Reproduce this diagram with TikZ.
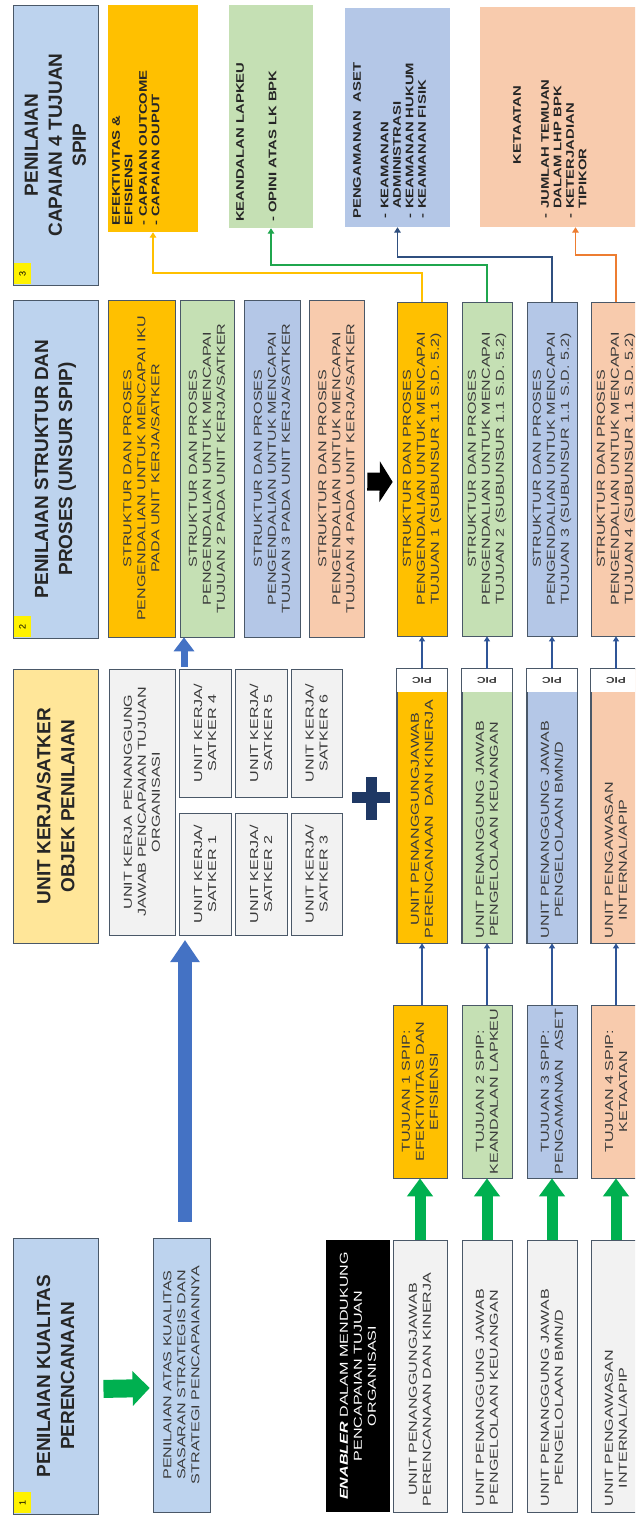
\documentclass[tikz,border=0pt]{standalone}
\usepackage{fontspec}
\setmainfont{Liberation Sans}
\newfontfamily\bodyf[FakeStretch=1.4]{Liberation Sans}
\newfontfamily\ebf[FakeStretch=1.35]{Liberation Sans}
\usetikzlibrary{arrows.meta,calc}
\definecolor{hblue}{HTML}{BDD3EE}
\definecolor{hyel}{HTML}{FFE699}
\definecolor{cor}{HTML}{FFC000}
\definecolor{cgr}{HTML}{C5E0B4}
\definecolor{cbl}{HTML}{B4C7E7}
\definecolor{cpe}{HTML}{F8CBAD}
\definecolor{cgy}{HTML}{F2F2F2}
\definecolor{bord}{HTML}{4A5868}
\definecolor{txt}{HTML}{3A3A3A}
\definecolor{arrgreen}{HTML}{00B050}
\definecolor{arrblue}{HTML}{4472C4}
\definecolor{navy}{HTML}{1F3864}
\definecolor{thinnavy}{HTML}{2F5597}
\definecolor{lngr}{HTML}{1FA64E}
\definecolor{lnnv}{HTML}{2F4F7F}
\definecolor{lnor}{HTML}{ED7D31}
\newcommand\mybox[7]{%
  \pgfmathsetmacro\mbx{(#2+#4)/2}%
  \pgfmathsetmacro\mby{-(#3+#5)/2}%
  \pgfmathsetmacro\mbw{#5-#3}%
  \pgfmathsetmacro\mbh{#4-#2}%
  \node[#6, minimum width=\mbw pt, minimum height=\mbh pt] (#1) at (\mbx,\mby) {#7};}
\begin{document}
\begin{tikzpicture}[x=1pt,y=1pt,
  box/.style={rotate=90, draw=bord, line width=0.7pt, inner sep=1pt, align=center, text=txt, font=\bodyf\fontsize{11.5}{14}\selectfont},
  hdr/.style={rotate=90, draw=bord, line width=0.9pt, fill=hblue, align=center, text=black!85, font=\bfseries\fontsize{19}{24}\selectfont},
  tagbox/.style={rotate=90, fill=yellow, inner sep=0pt, font=\fontsize{9}{9}\selectfont},
  ebox/.style={rotate=90, draw=none, inner sep=0pt},
  etext/.style={rotate=90, align=left, inner sep=0pt, anchor=north west, text=black!85, font=\ebf\bfseries\fontsize{11}{12.5}\selectfont},
  btext/.style={rotate=90, align=center, inner sep=0pt, anchor=west, text=txt, font=\bodyf\fontsize{11.5}{14}\selectfont},
  pictag/.style={rotate=180, inner sep=0pt, text=txt, font=\bodyf\bfseries\fontsize{8.5}{8.5}\selectfont},
  navyarr/.style={draw=thinnavy, line width=1.6pt, -{Triangle[width=6pt,length=5pt]}},
  gblock/.style={draw=arrgreen, line width=11pt, -{Triangle[width=25pt,length=18pt]}},
  hblock/.style={draw=arrgreen, line width=18pt, -{Triangle[width=34pt,length=17pt]}},
  bigblue/.style={draw=arrblue, line width=14pt, -{Triangle[width=28pt,length=22pt]}},
  smallblue/.style={draw=arrblue, line width=7pt, -{Triangle[width=20pt,length=14pt]}},
  blackarr/.style={draw=black, line width=18pt, -{Triangle[width=40pt,length=13pt]}},
  lnk/.style={line width=1.8pt, -{Triangle[width=6.5pt,length=5.5pt]}}
]
\useasboundingbox (0,0) rectangle (635,-1516);
\begin{scope}
\clip (0,0) rectangle (635,-1516);
\fill[white] (0,0) rectangle (635,-1516);

% headers
\mybox{h4}{13}{5}{98}{285}{hdr}{PENILAIAN\\CAPAIAN 4 TUJUAN\\SPIP}
\mybox{h3}{13}{300}{98}{638}{hdr}{PENILAIAN STRUKTUR DAN\\PROSES (UNSUR SPIP)}
\mybox{h2}{13}{669}{98}{943}{hdr, fill=hyel}{UNIT KERJA/SATKER\\OBJEK PENILAIAN}
\mybox{h1}{13}{1238}{98}{1514}{hdr}{PENILAIAN KUALITAS\\PERENCANAAN}
\mybox{tg3}{14}{263}{31}{284}{tagbox}{3}
\mybox{tg2}{14}{616}{31}{637}{tagbox}{2}
\mybox{tg1}{14}{1492}{31}{1513}{tagbox}{1}

% column 4 targets
\mybox{e1}{108}{5}{198}{232}{ebox, fill=cor}{}
\mybox{e2}{229}{5}{313}{228}{ebox, fill=cgr}{}
\mybox{e3}{345}{8}{450}{227}{ebox, fill=cbl}{}
\mybox{e4}{480}{7}{645}{227}{ebox, fill=cpe}{}
\node[etext] (e1t) at (112,-226) {EFEKTIVITAS \&\\EFISIENSI\\[2pt]- CAPAIAN OUTCOME\\- CAPAIAN OUPUT};
\node[etext] (e2t) at (236,-222) {KEANDALAN LAPKEU\\[20pt]- OPINI ATAS LK BPK};
\node[etext] (e3t) at (353,-219) {PENGAMANAN\ \ ASET\\[15pt]\makebox[10pt][l]{-}KEAMANAN\\\hspace*{10pt}ADMINISTRASI\\\makebox[10pt][l]{-}KEAMANAN HUKUM\\\makebox[10pt][l]{-}KEAMANAN FISIK};
\node[etext, anchor=center] (e4k) at (517,-125) {KETAATAN};
\node[etext] (e4t) at (541,-219) {\makebox[10pt][l]{-}JUMLAH TEMUAN\\\hspace*{10pt}DALAM LHP BPK\\\makebox[10pt][l]{-}KETERJADIAN\\\hspace*{10pt}TIPIKOR};

% column 1 / 2
\mybox{p1}{153}{1238}{210}{1512}{box, fill=hblue}{PENILAIAN ATAS KUALITAS\\SASARAN STRATEGIS DAN\\STRATEGI PENCAPAIANNYA}
\mybox{ukp}{109}{669}{175}{935}{box, fill=cgy}{UNIT KERJA PENANGGUNG\\JAWAB PENCAPAIAN TUJUAN\\ORGANISASI}
\mybox{sk1}{179}{813}{231}{935}{box, fill=cgy}{UNIT KERJA/\\SATKER 1}
\mybox{sk4}{179}{669}{231}{797}{box, fill=cgy}{UNIT KERJA/\\SATKER 4}
\mybox{sk2}{235}{813}{287}{935}{box, fill=cgy}{UNIT KERJA/\\SATKER 2}
\mybox{sk5}{235}{669}{287}{797}{box, fill=cgy}{UNIT KERJA/\\SATKER 5}
\mybox{sk3}{291}{813}{342}{935}{box, fill=cgy}{UNIT KERJA/\\SATKER 3}
\mybox{sk6}{291}{669}{342}{797}{box, fill=cgy}{UNIT KERJA/\\SATKER 6}
\fill[navy] (352,-792) rectangle (390,-803);
\fill[navy] (366,-777) rectangle (377,-820);

% upper structure boxes
\mybox{si}{108}{300}{175}{637}{box, fill=cor}{STRUKTUR DAN PROSES\\PENGENDALIAN UNTUK MENCAPAI IKU\\PADA UNIT KERJA/SATKER}
\mybox{s2u}{180}{300}{234}{637}{box, fill=cgr}{STRUKTUR DAN PROSES\\PENGENDALIAN UNTUK MENCAPAI\\TUJUAN 2 PADA UNIT KERJA/SATKER}
\mybox{s3u}{244}{300}{300}{637}{box, fill=cbl}{STRUKTUR DAN PROSES\\PENGENDALIAN UNTUK MENCAPAI\\TUJUAN 3 PADA UNIT KERJA/SATKER}
\mybox{s4u}{309}{300}{364}{637}{box, fill=cpe}{STRUKTUR DAN PROSES\\PENGENDALIAN UNTUK MENCAPAI\\TUJUAN 4 PADA UNIT KERJA/SATKER}

% lower structure boxes
\mybox{l1}{397}{302}{447}{636}{box, fill=cor}{STRUKTUR DAN PROSES\\PENGENDALIAN UNTUK MENCAPAI\\TUJUAN 1 (SUBUNSUR 1.1 S.D. 5.2)}
\mybox{l2}{462}{302}{512}{636}{box, fill=cgr}{STRUKTUR DAN PROSES\\PENGENDALIAN UNTUK MENCAPAI\\TUJUAN 2 (SUBUNSUR 1.1 S.D. 5.2)}
\mybox{l3}{527}{302}{577}{636}{box, fill=cbl}{STRUKTUR DAN PROSES\\PENGENDALIAN UNTUK MENCAPAI\\TUJUAN 3 (SUBUNSUR 1.1 S.D. 5.2)}
\mybox{l4}{591}{302}{641}{636}{box, fill=cpe}{STRUKTUR DAN PROSES\\PENGENDALIAN UNTUK MENCAPAI\\TUJUAN 4 (SUBUNSUR 1.1 S.D. 5.2)}

% unit (PIC) boxes
\mybox{u1}{397}{669}{447}{943}{box, fill=cor}{}
\mybox{u2}{462}{669}{512}{943}{box, fill=cgr}{}
\mybox{u3}{527}{669}{577}{943}{box, fill=cbl}{}
\mybox{u4}{591}{669}{641}{943}{box, fill=cpe}{}
\foreach \u in {u1,u2,u3,u4}{
  \fill[white] ([xshift=-24.6pt,yshift=-0.4pt]\u.east) rectangle ([xshift=24.6pt,yshift=-23pt]\u.east);
  \draw[bord, line width=0.7pt] (\u.north west) rectangle (\u.south east);
  \node[pictag] (pic\u) at ([yshift=-11.5pt]\u.east) {PIC};
}
\node[btext] (u1t) at ([yshift=5pt]u1.west) {UNIT PENANGGUNGJAWAB\\PERENCANAAN\ \ DAN KINERJA};
\node[btext] (u2t) at ([yshift=5pt]u2.west) {UNIT PENANGGUNG JAWAB\\PENGELOLAAN KEUANGAN};
\node[btext] (u3t) at ([yshift=5pt]u3.west) {UNIT PENANGGUNG JAWAB\\PENGELOLAAN BMN/D};
\node[btext] (u4t) at ([yshift=5pt]u4.west) {UNIT PENGAWASAN\\INTERNAL/APIP};

% tujuan boxes
\mybox{t1}{393}{1005}{447}{1178}{box, fill=cor}{TUJUAN 1 SPIP:\\EFEKTIVITAS DAN\\EFISIENSI}
\mybox{t2}{462}{1005}{512}{1178}{box, fill=cgr}{TUJUAN 2 SPIP:\\KEANDALAN LAPKEU}
\mybox{t3}{527}{1005}{577}{1178}{box, fill=cbl}{TUJUAN 3 SPIP:\\PENGAMANAN\ \ ASET}
\mybox{t4}{591}{1005}{641}{1178}{box, fill=cpe}{TUJUAN 4 SPIP:\\KETAATAN}

% enabler + unit boxes bottom
\mybox{en}{326}{1240}{390}{1512}{box, fill=black, draw=none, text=white}{\textbf{\textit{ENABLER}} DALAM MENDUKUNG\\PENCAPAIAN TUJUAN\\ORGANISASI}
\mybox{g1}{393}{1240}{447}{1512}{box, fill=cgy}{}
\mybox{g2}{462}{1240}{512}{1512}{box, fill=cgy}{}
\mybox{g3}{527}{1240}{577}{1512}{box, fill=cgy}{}
\mybox{g4}{591}{1240}{641}{1512}{box, fill=cgy}{}
\node[btext] (g1t) at ([yshift=6pt]g1.west) {UNIT PENANGGUNGJAWAB\\PERENCANAAN DAN KINERJA};
\node[btext] (g2t) at ([yshift=6pt]g2.west) {UNIT PENANGGUNG JAWAB\\PENGELOLAAN KEUANGAN};
\node[btext] (g3t) at ([yshift=6pt]g3.west) {UNIT PENANGGUNG JAWAB\\PENGELOLAAN BMN/D};
\node[btext] (g4t) at ([yshift=6pt]g4.west) {UNIT PENGAWASAN\\INTERNAL/APIP};

% block arrows
\draw[hblock, shorten <=5pt, shorten >=3pt] ([yshift=-13pt]h1.south) -- ([yshift=-13pt]p1.north);
\coordinate (bluetip) at (185,-940);
\draw[bigblue] ([xshift=3.5pt,yshift=16pt]p1.east) -- (bluetip);
\draw[smallblue] ([xshift=-21pt,yshift=2pt]sk4.east) -- ([xshift=-23pt]s2u.west);
\draw[blackarr, shorten <=3pt, shorten >=4pt] ([yshift=-13pt]s4u.south) -- ([yshift=-13pt]l1.north);
\foreach \i in {1,2,3,4}{
  \draw[gblock] (g\i.east) -- (t\i.west);
  \draw[navyarr] (u\i.west |- t\i.east) -- (u\i.west);
  \draw[navyarr] (u\i.east) -- (l\i.west);
}

% links to targets
\draw[lnk, draw=cor] (l1.east) -- ++(0,29) -| (e1.west);
\draw[lnk, draw=lngr] (l2.east) -- ++(0,37) -| (e2.west);
\draw[lnk, draw=lnnv] (l3.east) -- ++(0,45) -| (e3.west);
\draw[lnk, draw=lnor] (l4.east) -- ++(0,47) -| ([xshift=13pt]e4.west);
\end{scope}
\end{tikzpicture}
\end{document}
